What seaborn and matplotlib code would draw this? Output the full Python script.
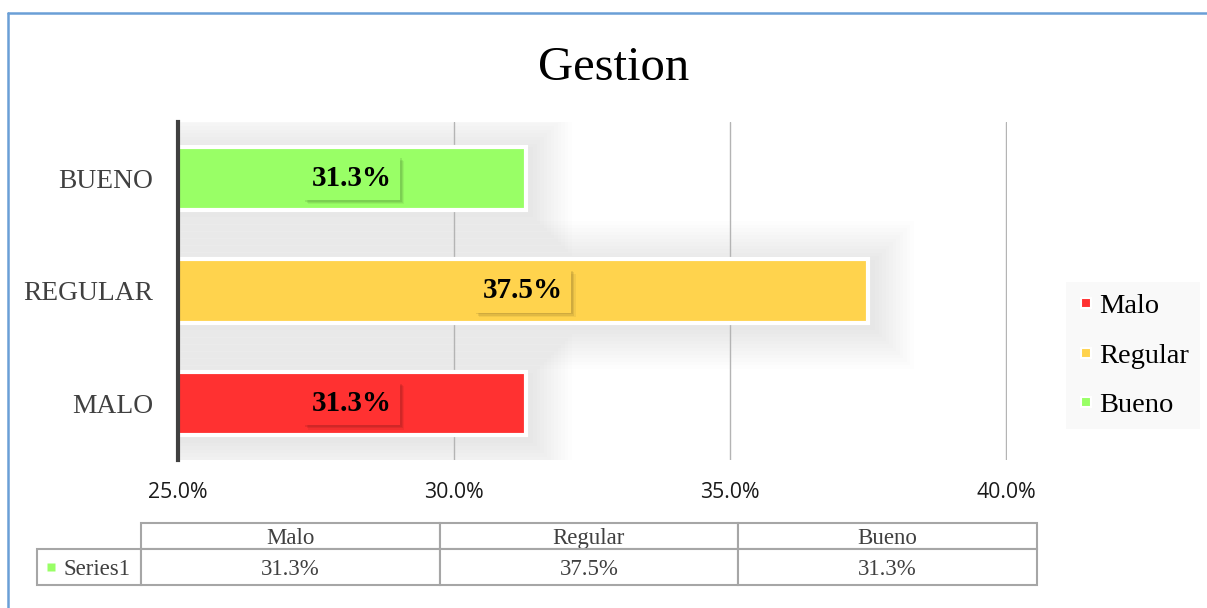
import matplotlib
matplotlib.use('Agg')
import matplotlib.pyplot as plt
import matplotlib.patheffects as pe
from matplotlib.lines import Line2D
from matplotlib.table import Table
import seaborn as sns
import pandas as pd
import numpy as np

# ---- data ----
categories = ['MALO', 'REGULAR', 'BUENO']
legend_labels = ['Malo', 'Regular', 'Bueno']
values = [31.3, 37.5, 31.3]
value_labels = ['31.3%', '37.5%', '31.3%']
colors = ['#FF3131', '#FFD34D', '#99FF66']
xticks = [25, 30, 35, 40]
xtick_labels = ['25.0%', '30.0%', '35.0%', '40.0%']
title = 'Gestion'
series_name = 'Series1'

sns.set_theme(style='white')
plt.rcParams['font.family'] = ['Liberation Serif', 'DejaVu Serif']

W, H = 1207, 608
fig = plt.figure(figsize=(W / 100, H / 100), dpi=100)
fig.patch.set_facecolor('white')

ax = fig.add_axes([178 / W, 1 - 460 / H, (1007 - 178) / W, (460 - 122) / H])

order = categories[::-1]  # top to bottom
df = pd.DataFrame({'category': categories, 'value': values})
palette = dict(zip(categories, colors))

sns.barplot(data=df, x='value', y='category', hue='category', order=order,
            hue_order=order, palette=palette, orient='h', width=0.56,
            edgecolor='white', linewidth=3, saturation=1, legend=False,
            ax=ax, zorder=3)

ax.set_xlim(25, 40.02)
ax.set_ylim(2.5, -0.5)

# soft glow / shadow behind bars
vals_ordered = np.array([values[categories.index(c)] for c in order])
px_x = (1007 - 178) / 15.0
px_y = (460 - 122) / 3.0
ypos = np.arange(len(order))
for k in range(1, 13):
    pad = k * 3.5
    ax.barh(ypos + 4 / px_y, vals_ordered + (pad + 4) / px_x,
            height=0.56 + 2 * pad / px_y, left=0, color='black',
            alpha=0.006, linewidth=0, zorder=0.3)

# value labels with boxes
for i, c in enumerate(order):
    idx = categories.index(c)
    v = values[idx]
    t = ax.text((25 + v) / 2, i, value_labels[idx], ha='center', va='center',
                fontsize=21, fontweight='bold', color='black', zorder=5,
                bbox=dict(boxstyle='square,pad=0.28', fc=colors[idx], ec='none'))
    t.get_bbox_patch().set_path_effects([
        pe.SimplePatchShadow(offset=(1.2, -1.2), alpha=0.12),
        pe.SimplePatchShadow(offset=(2.2, -2.2), alpha=0.10),
        pe.SimplePatchShadow(offset=(3.2, -3.2), alpha=0.07),
        pe.Normal()])

# axes styling
for s in ['top', 'right', 'bottom']:
    ax.spines[s].set_visible(False)
ax.spines['left'].set_color('#404040')
ax.spines['left'].set_linewidth(3)
ax.spines['left'].set_zorder(6)
ax.set_axisbelow(True)
ax.grid(axis='x', color='#b4b4b4', linewidth=1)
ax.grid(axis='y', visible=False)
ax.set_xticks(xticks)
ax.set_xticklabels(xtick_labels, fontfamily='Open Sans', fontsize=15.3, color='#1a1a1a')
ax.set_yticks(ypos)
ax.set_yticklabels(order, fontsize=19.8, color='#404040')
ax.tick_params(axis='x', length=0, pad=16)
ax.tick_params(axis='y', length=0, pad=18)
ax.set_xlabel('')
ax.set_ylabel('')
ax.set_facecolor('white')

# title
fig.text(614 / W, 1 - 80 / H, title, ha='center', va='baseline', fontsize=35, color='black')

# legend
handles = [Line2D([], [], marker='s', linestyle='none', markersize=7.5,
                  markerfacecolor=c, markeredgecolor='white', markeredgewidth=1.5)
           for c in colors]
leg = fig.legend(handles, legend_labels, loc='upper left',
                 bbox_to_anchor=(1066 / W, 1 - 282 / H), borderaxespad=0,
                 frameon=True, fancybox=False, fontsize=20.5, handlelength=0.6,
                 handletextpad=0.15, labelspacing=0.82, borderpad=0.4)
leg.get_frame().set_facecolor('#f8f8f8')
leg.get_frame().set_edgecolor('none')
for txt in leg.get_texts():
    txt.set_color('black')

# data table
tax = fig.add_axes([0, 0, 1, 1])
tax.set_axis_off()
tax.set_xlim(0, 1)
tax.set_ylim(0, 1)
tbl = Table(tax, bbox=[37 / W, 1 - 585 / H, 1000 / W, 62 / H])
edge = '#a6a6a6'
corner = tbl.add_cell(0, 0, width=104, height=26, text='', facecolor='none', edgecolor='none')
corner.visible_edges = ''
for j, lab in enumerate(legend_labels):
    cell = tbl.add_cell(0, j + 1, width=299, height=26, text=lab, loc='center',
                        facecolor='white', edgecolor=edge)
    cell.set_linewidth(1.5)
rl = tbl.add_cell(1, 0, width=104, height=36, text=series_name, loc='right',
                  facecolor='white', edgecolor=edge)
rl.set_linewidth(1.5)
for j, vl in enumerate(value_labels):
    cell = tbl.add_cell(1, j + 1, width=299, height=36, text=vl, loc='center',
                        facecolor='white', edgecolor=edge)
    cell.set_linewidth(1.5)
tbl.auto_set_font_size(False)
for (r, cidx), cell in tbl.get_celld().items():
    cell.get_text().set_fontsize(16.5)
    cell.get_text().set_color('#404040')
    cell.get_text().set_fontfamily(['Liberation Serif'])
    cell.get_text().set_va('center_baseline')
    cell.PAD = 0.1
tax.add_table(tbl)
# legend key of the table row (series colour)
tax.plot([51 / W], [1 - 567 / H], marker='s', markersize=6, color=colors[2],
         markeredgecolor='none', linestyle='none')

# outer chart border (top and left visible)
fig.add_artist(Line2D([8 / W, 1], [1 - 13 / H, 1 - 13 / H], color='#6a9fd6', linewidth=1.8))
fig.add_artist(Line2D([8 / W, 8 / W], [0, 1 - 13 / H], color='#6a9fd6', linewidth=1.8))

fig.savefig('out.png', dpi=100)
